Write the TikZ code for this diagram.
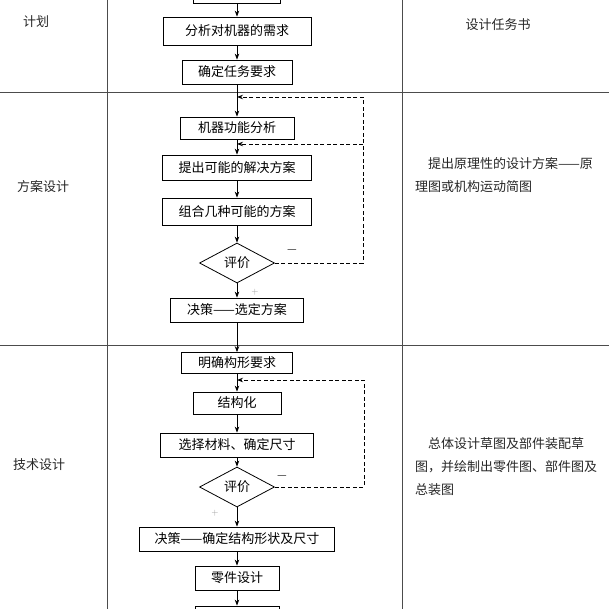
\documentclass[tikz,border=0pt]{standalone}
\usepackage{fontspec}
\setmainfont{Noto Sans CJK SC}
\usetikzlibrary{shapes.geometric,arrows.meta}
\tikzset{stepbox/.style={draw, line width=0.8pt, minimum height=24pt, inner sep=0pt, font=\fontsize{13}{15}\selectfont},
  judge/.style={draw, diamond, line width=0.8pt, minimum width=75pt, minimum height=40pt, inner sep=0pt, font=\fontsize{13}{15}\selectfont},
  flow/.style={-{Stealth[length=6pt,width=4.5pt]}, line width=0.8pt},
  back/.style={flow, dash pattern=on 4pt off 2.5pt},
  rule/.style={black!70, line width=0.6pt},
  side/.style={black!85, inner sep=0pt, font=\fontsize{13}{23}\selectfont},
  sign/.style={inner sep=0pt, font=\Large}}

\begin{document}
\begin{tikzpicture}[x=1pt,y=-1pt]
  \useasboundingbox (0,0) rectangle (609,609);
  \clip (0,0) rectangle (609,609);
  \draw[rule] (107,0) -- (107,609);
  \draw[rule] (402,0) -- (402,609);
  \draw[rule] (0,92) -- (609,92);
  \draw[rule] (0,345) -- (609,345);

  \node[side] (plan) at (36,22) {计划};
  \node[side] (scheme) at (43,187) {方案设计};
  \node[side] (tech) at (39,465) {技术设计};
  \node[side] (book) at (498,25) {设计任务书};
  \node[side, anchor=north west, align=left] (noteA) at (415,157) {\hspace*{1em}提出原理性的设计方案——原\\理图或机构运动简图};
  \node[side, anchor=north west, align=left] (noteB) at (415,437) {\hspace*{1em}总体设计草图及部件装配草\\图，并绘制出零件图、部件图及\\总装图};

  \node[stepbox, minimum width=87pt] (top) at (237,-9) {};
  \node[stepbox, minimum width=148pt, minimum height=28pt] (need) at (237,31) {分析对机器的需求};
  \node[stepbox, minimum width=110pt] (task) at (237,72) {确定任务要求};
  \node[stepbox, minimum width=114pt, minimum height=22pt] (func) at (237,128) {机器功能分析};
  \node[stepbox, minimum width=149pt, minimum height=25pt] (solve) at (237,167.5) {提出可能的解决方案};
  \node[stepbox, minimum width=149pt, minimum height=27pt] (combine) at (237,211.5) {组合几种可能的方案};
  \node[judge] (evalA) at (237,263) {评价};
  \node[stepbox, minimum width=133pt] (pickA) at (237,310) {决策——选定方案};
  \node[stepbox, minimum width=111pt, minimum height=21pt] (form) at (237,363) {明确构形要求};
  \node[stepbox, minimum width=88pt, minimum height=22pt] (struct) at (237,403) {结构化};
  \node[stepbox, minimum width=153pt] (size) at (237,445) {选择材料、确定尺寸};
  \node[judge] (evalB) at (237,487) {评价};
  \node[stepbox, minimum width=195pt] (pickB) at (237,539) {决策——确定结构形状及尺寸};
  \node[stepbox, minimum width=84pt] (part) at (237,578) {零件设计};
  \node[stepbox, minimum width=84pt] (next) at (237,618) {};

  \foreach \a/\b in {top/need, need/task, task/func, func/solve, solve/combine, combine/evalA, evalA/pickA,
    pickA/form, form/struct, struct/size, size/evalB, evalB/pickB, pickB/part, part/next}
    \draw[flow] (\a) -- (\b);

  \coordinate (loopA) at (363,97);
  \coordinate (loopA2) at (363,144);
  \coordinate (loopB) at (364,380);
  \draw[back] (evalA.east) -| (loopA) -- (loopA -| func.north);
  \draw[back] (loopA2) -- (loopA2 -| solve.north);
  \draw[back] (evalB.east) -| (loopB) -- (loopB -| struct.north);

  \node[sign] (minusA) at (292,250) {$-$};
  \node[sign, black!40, font=\small] (plusA) at (255,292) {$+$};
  \node[sign] (minusB) at (282,476) {$-$};
  \node[sign, black!40, font=\small] (plusB) at (215,513) {$+$};
\end{tikzpicture}
\end{document}
